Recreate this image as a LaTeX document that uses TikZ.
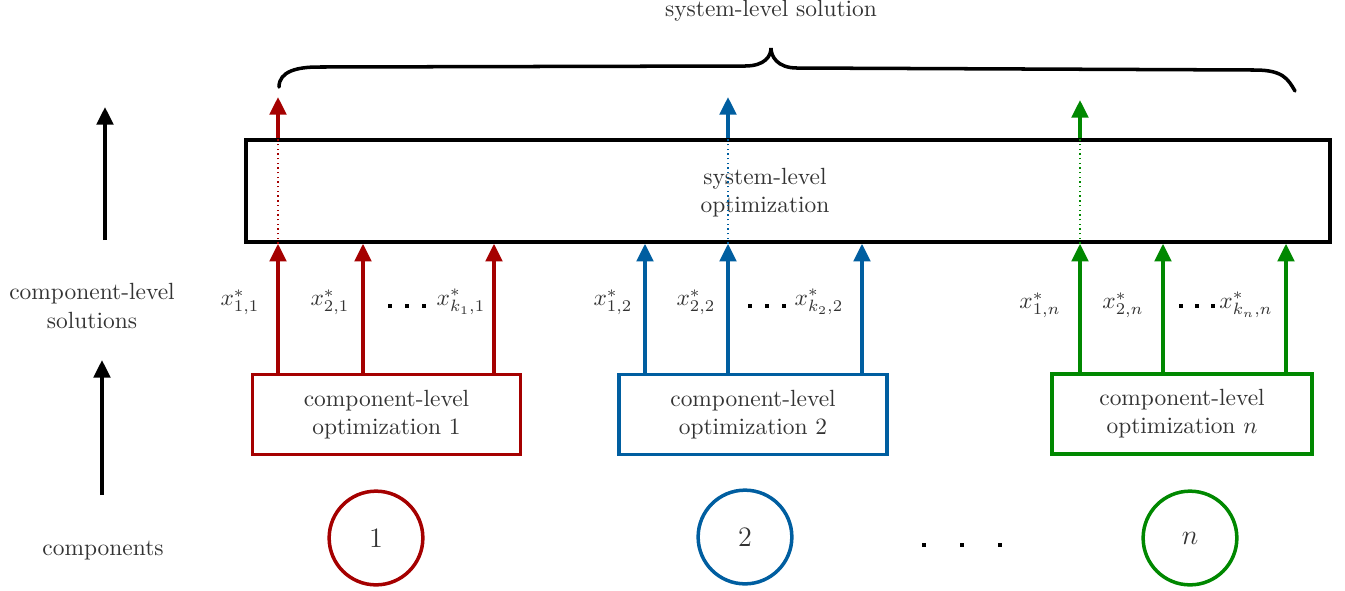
\documentclass[tikz,border=0pt]{standalone}
\usetikzlibrary{arrows.meta}
\definecolor{cred}{RGB}{165,0,0}
\definecolor{cblue}{RGB}{0,94,160}
\definecolor{cgreen}{RGB}{0,136,0}
\begin{document}
\begin{tikzpicture}[x=0.015cm,y=-0.015cm,
  txt/.style={text=black!80,align=center,font=\normalsize},
  lbl/.style={text=black!80,inner sep=1pt},
  arr/.style={line width=1.6pt,-{Triangle[width=7pt,length=7.5pt]}},
  thru/.style={line width=0.6pt,dash pattern=on 0.6pt off 1.4pt},
  cbox/.style={draw,line width=1.5pt,minimum width=114.5pt,minimum height=34pt,text=black!80,align=center},
  comp/.style={draw,circle,line width=1.5pt,minimum size=40pt,text=black!80,font=\large},
  bracestyle/.style={line width=1.5pt,line cap=round},
  sqdot/.style={fill=black}]
\useasboundingbox (0,0) rectangle (1345,590);
% titles
\node[txt] (title) at (771,11) {system-level solution};
\node[txt] (cls) at (92,306) {component-level\\solutions};
\node[txt] (cmps) at (103,551) {components};
% left arrows
\coordinate (la1) at (105,240); \coordinate (la2) at (105,107);
\coordinate (lb1) at (102,495); \coordinate (lb2) at (102,360);
\draw[arr] (la1) -- (la2);
\draw[arr] (lb1) -- (lb2);
% system box
\node[draw,line width=1.5pt,minimum width=462.5pt,minimum height=43.5pt,inner sep=0pt] (sys) at (788,191) {};
\node[txt] (systxt) at (765,193) {system-level\\optimization};
% component boxes
\node[cbox,draw=cred] (rbox) at (386.5,414.5) {component-level\\optimization 1};
\node[cbox,draw=cblue] (bbox) at (753,414.5) {component-level\\optimization 2};
\node[cbox,draw=cgreen,minimum width=111pt] (gbox) at (1182,414) {component-level\\optimization $n$};
% circles
\node[comp,draw=cred] (c1) at (376,538) {1};
\node[comp,draw=cblue] (c2) at (745,537) {2};
\node[comp,draw=cgreen] (cn) at (1190,538) {$n$};
% columns
\foreach \n/\x in {r1/278,r2/363,r3/494,b1/645,b2/728,b3/862,g1/1080,g2/1163,g3/1286}
  \coordinate (\n) at (\x,0);
\draw[arr,cred] (rbox.north -| r1) -- (sys.south -| r1);
\draw[arr,cred] (rbox.north -| r2) -- (sys.south -| r2);
\draw[arr,cred] (rbox.north -| r3) -- (sys.south -| r3);
\draw[arr,cblue] (bbox.north -| b1) -- (sys.south -| b1);
\draw[arr,cblue] (bbox.north -| b2) -- (sys.south -| b2);
\draw[arr,cblue] (bbox.north -| b3) -- (sys.south -| b3);
\draw[arr,cgreen] (gbox.north -| g1) -- (sys.south -| g1);
\draw[arr,cgreen] (gbox.north -| g2) -- (sys.south -| g2);
\draw[arr,cgreen] (gbox.north -| g3) -- (sys.south -| g3);
% through lines
\draw[thru,cred] (sys.south -| r1) -- (sys.north -| r1);
\draw[thru,cblue] (sys.south -| b2) -- (sys.north -| b2);
\draw[thru,cgreen] (sys.south -| g1) -- (sys.north -| g1);
\coordinate (rt) at (278,97); \coordinate (bt) at (728,97); \coordinate (gt) at (1080,100);
\draw[arr,cred] (sys.north -| r1) -- (rt);
\draw[arr,cblue] (sys.north -| b2) -- (bt);
\draw[arr,cgreen] (sys.north -| g1) -- (gt);
% brace
\coordinate (bl) at (279,87); \coordinate (btip) at (771,48); \coordinate (br) at (1295,91);
\draw[bracestyle] (bl) .. controls +(0,-16) and +(-20,0) .. (318,67)
  -- (745,66) .. controls +(20,0) and +(0,8) .. (btip)
  .. controls +(0,8) and +(-20,0) .. (797,68)
  -- (1255,70) .. controls +(28,0) and +(-7,-12) .. (br);
% labels
\node[lbl] (x11) at (240,302) {$x^*_{1,1}$};
\node[lbl] (x21) at (330,302) {$x^*_{2,1}$};
\node[lbl] (xk1) at (461,302) {$x^*_{k_1,1}$};
\node[lbl] (x12) at (613,302) {$x^*_{1,2}$};
\node[lbl] (x22) at (696,302) {$x^*_{2,2}$};
\node[lbl] (xk2) at (819,302) {$x^*_{k_2,2}$};
\node[lbl] (x1n) at (1040,305) {$x^*_{1,n}$};
\node[lbl] (x2n) at (1123,305) {$x^*_{2,n}$};
\node[lbl] (xkn) at (1246,305) {$x^*_{k_n,n}$};
% dots
\foreach \x in {390,407,424,750,767,784,1181,1197,1213}
  \fill[sqdot] (\x-2,304) rectangle (\x+2,308);
\foreach \x in {924,962,1000}
  \fill[sqdot] (\x-2,543) rectangle (\x+2,547);
\end{tikzpicture}
\end{document}
